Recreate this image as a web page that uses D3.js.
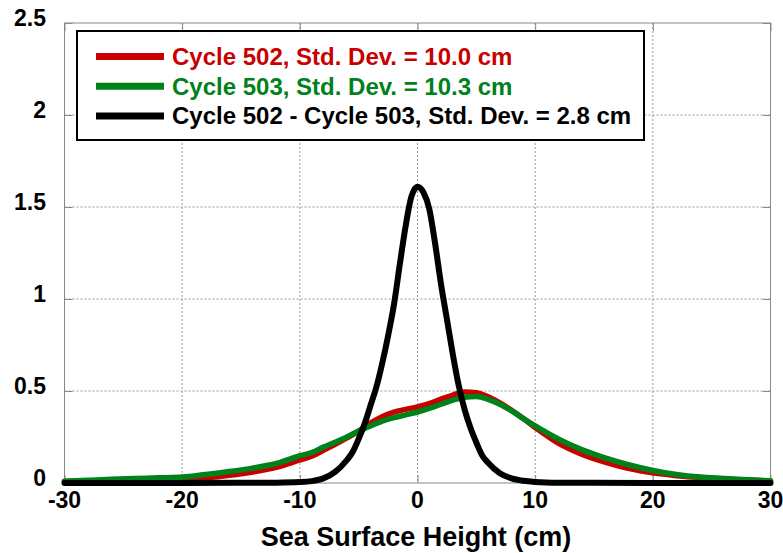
<!DOCTYPE html>
<html lang="en">
<head>
    <meta charset="UTF-8">
    <title>Sea Surface Height</title>
    <style>
        body { margin: 0; background: #fff; }
        text { font-family: "Liberation Sans", Arial, sans-serif; font-weight: bold; }
    </style>
</head>
<body>
<script src='https://d3js.org/d3.v7.min.js'></script>
<script>
    // x positions (cm) of the two cycle curves
    const cycleX = [-30, -28, -26, -24, -22, -20, -18, -16, -14, -12, -10, -9, -8, -7, -6, -5, -4, -3, -2, -1,
        0, 1, 2, 3, 4, 5, 6, 7, 8, 9, 10, 12, 14, 16, 18, 20, 22, 24, 26, 28, 30];
    const cycle502 = [0.008, 0.010, 0.012, 0.014, 0.016, 0.018, 0.028, 0.042, 0.060, 0.085, 0.125, 0.145, 0.178, 0.210, 0.245, 0.282, 0.325, 0.360, 0.385, 0.400,
        0.414, 0.432, 0.456, 0.478, 0.495, 0.490, 0.468, 0.435, 0.395, 0.350, 0.302, 0.215, 0.155, 0.112, 0.078, 0.055, 0.040, 0.030, 0.022, 0.016, 0.010];
    const cycle503 = [0.010, 0.015, 0.020, 0.024, 0.028, 0.032, 0.046, 0.062, 0.081, 0.106, 0.148, 0.165, 0.195, 0.222, 0.250, 0.282, 0.310, 0.336, 0.355, 0.370,
        0.386, 0.405, 0.428, 0.450, 0.466, 0.470, 0.455, 0.428, 0.392, 0.350, 0.310, 0.238, 0.180, 0.135, 0.098, 0.068, 0.046, 0.032, 0.025, 0.018, 0.012];

    // difference curve
    const diffX = [-30, -20, -15, -12, -10, -9, -8, -7, -6, -5.5, -5, -4.5, -4, -3.5, -3, -2.5, -2, -1.5, -1, -0.5,
        0, 0.5, 1, 1.5, 2, 2.5, 3, 3.5, 4, 4.5, 5, 5.5, 6, 7, 8, 9, 10, 12, 15, 20, 30];
    const diffY = [0, 0, 0.001, 0.002, 0.005, 0.010, 0.025, 0.060, 0.125, 0.170, 0.240, 0.320, 0.420, 0.520, 0.650, 0.800, 0.970, 1.190, 1.400, 1.560,
        1.610, 1.580, 1.490, 1.300, 1.080, 0.890, 0.700, 0.530, 0.400, 0.300, 0.220, 0.150, 0.110, 0.053, 0.025, 0.012, 0.006, 0.002, 0.001, 0, 0];

    const xTicks = [-30, -20, -10, 0, 10, 20, 30];
    const yTicks = [0, 0.5, 1, 1.5, 2, 2.5];
    const yTickLabels = ["0", "0.5", "1", "1.5", "2", "2.5"];

    const legendLabels = ["Cycle 502, Std. Dev. = 10.0 cm", "Cycle 503, Std. Dev. = 10.3 cm", "Cycle 502 - Cycle 503, Std. Dev. = 2.8 cm"];
    const colors = ["#c80000", "#00821a", "#000000"];

    const width = 783, height = 553;
    const pLeft = 64.5, pRight = 770.5, pTop = 23, pBottom = 483;

    const svg = d3.select("body")
        .append("svg")
        .attr("width", width)
        .attr("height", height);

    const x = d3.scaleLinear().domain([-30, 30]).range([pLeft, pRight]);
    const y = d3.scaleLinear().domain([0, 2.5]).range([pBottom, pTop]);

    // grid
    svg.append("g")
        .selectAll("line")
        .data(xTicks.slice(1, -1))
        .enter()
        .append("line")
        .attr("x1", d => x(d)).attr("x2", d => x(d))
        .attr("y1", pTop).attr("y2", pBottom)
        .attr("stroke", "#999")
        .attr("stroke-dasharray", "2,2");
    svg.append("g")
        .selectAll("line")
        .data(yTicks.slice(1, -1))
        .enter()
        .append("line")
        .attr("x1", pLeft).attr("x2", pRight)
        .attr("y1", d => y(d)).attr("y2", d => y(d))
        .attr("stroke", "#999")
        .attr("stroke-dasharray", "2,2");

    // inward ticks
    const tickLen = 8;
    svg.append("g")
        .attr("transform", `translate(0,${pBottom})`)
        .call(d3.axisBottom(x).tickValues(xTicks).tickSize(-tickLen).tickFormat(""))
        .call(g => g.select(".domain").remove())
        .attr("color", "#888");
    svg.append("g")
        .attr("transform", `translate(0,${pTop})`)
        .call(d3.axisTop(x).tickValues(xTicks).tickSize(-tickLen).tickFormat(""))
        .call(g => g.select(".domain").remove())
        .attr("color", "#888");
    svg.append("g")
        .attr("transform", `translate(${pLeft},0)`)
        .call(d3.axisLeft(y).tickValues(yTicks).tickSize(-tickLen).tickFormat(""))
        .call(g => g.select(".domain").remove())
        .attr("color", "#888");
    svg.append("g")
        .attr("transform", `translate(${pRight},0)`)
        .call(d3.axisRight(y).tickValues(yTicks).tickSize(-tickLen).tickFormat(""))
        .call(g => g.select(".domain").remove())
        .attr("color", "#888");

    // frame
    svg.append("rect")
        .attr("x", pLeft).attr("y", pTop)
        .attr("width", pRight - pLeft).attr("height", pBottom - pTop)
        .attr("fill", "none")
        .attr("stroke", "#888");

    // tick labels
    svg.append("g")
        .selectAll("text")
        .data(xTicks)
        .enter()
        .append("text")
        .attr("x", d => x(d))
        .attr("y", 508)
        .attr("text-anchor", "middle")
        .attr("font-size", "23px")
        .text(d => d);
    svg.append("g")
        .selectAll("text")
        .data(yTicks)
        .enter()
        .append("text")
        .attr("x", 46)
        .attr("y", d => y(d) + 3)
        .attr("text-anchor", "end")
        .attr("font-size", "23px")
        .text((d, i) => yTickLabels[i]);

    svg.append("text")
        .attr("x", 416)
        .attr("y", 546)
        .attr("text-anchor", "middle")
        .attr("font-size", "27px")
        .text("Sea Surface Height (cm)");

    // curves
    const line = d3.line()
        .x(d => x(d[0]))
        .y(d => y(d[1]))
        .curve(d3.curveMonotoneX);

    const series = [
        cycleX.map((v, i) => [v, cycle502[i]]),
        cycleX.map((v, i) => [v, cycle503[i]]),
        diffX.map((v, i) => [v, diffY[i]])
    ];

    svg.append("g")
        .selectAll("path")
        .data(series)
        .enter()
        .append("path")
        .attr("d", line)
        .attr("fill", "none")
        .attr("stroke", (d, i) => colors[i])
        .attr("stroke-width", (d, i) => i == 2 ? 6 : 5.5)
        .attr("stroke-linecap", "round")
        .attr("stroke-linejoin", "round");

    // legend
    const legend = svg.append("g");
    legend.append("rect")
        .attr("x", 77).attr("y", 31)
        .attr("width", 567).attr("height", 109)
        .attr("fill", "#fff")
        .attr("stroke", "#000")
        .attr("stroke-width", 2);
    const rows = legend.selectAll(".row")
        .data(legendLabels)
        .enter()
        .append("g")
        .attr("transform", (d, i) => `translate(0,${56.5 + i * 29.7})`);
    rows.append("line")
        .attr("x1", 96).attr("x2", 164)
        .attr("stroke", (d, i) => colors[i])
        .attr("stroke-width", 7);
    rows.append("text")
        .attr("x", 172)
        .attr("y", 8.5)
        .attr("font-size", "24px")
        .attr("fill", (d, i) => colors[i])
        .text(d => d);
</script>
</body>
</html>
